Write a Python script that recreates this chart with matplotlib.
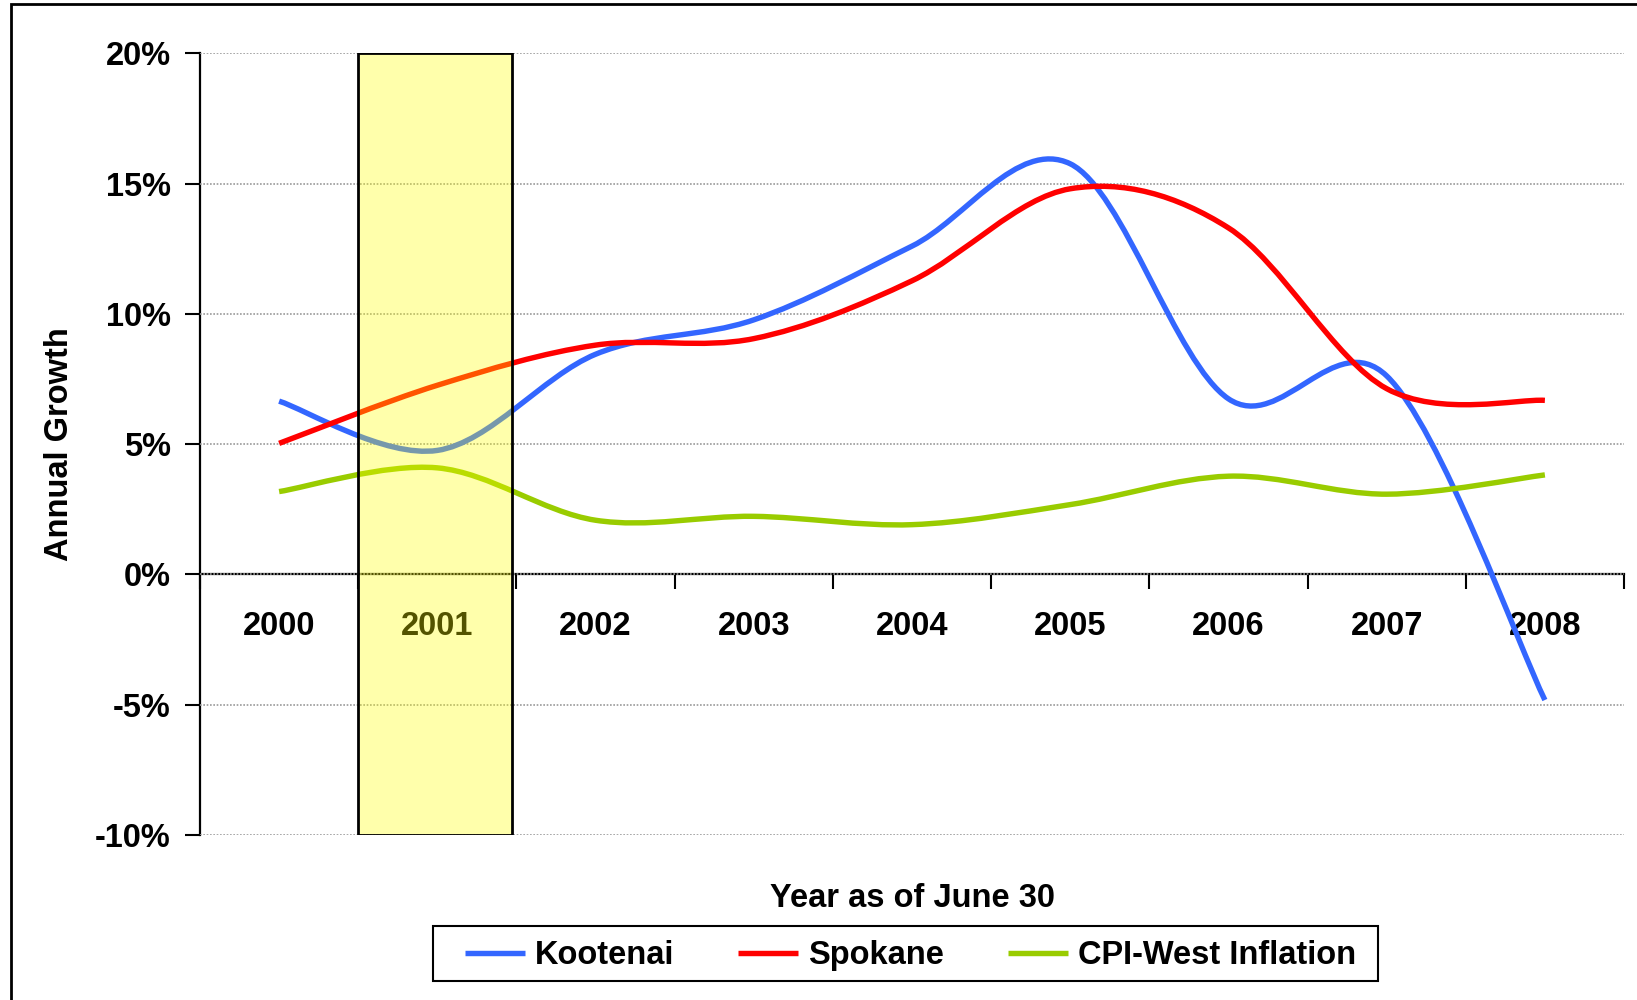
import matplotlib
matplotlib.use("Agg")
import matplotlib.pyplot as plt
from matplotlib.path import Path
from matplotlib.patches import PathPatch, Rectangle
from matplotlib.lines import Line2D
import numpy as np

# ---- data (annual growth, %) ----
years = ["2000", "2001", "2002", "2003", "2004", "2005", "2006", "2007", "2008"]
kootenai = [6.65, 4.76, 8.45, 9.77, 12.6, 15.76, 6.74, 7.62, -4.82]
spokane = [5.03, 7.26, 8.80, 9.05, 11.27, 14.8, 13.3, 7.13, 6.68]
cpi_west = [3.18, 4.09, 2.08, 2.23, 1.91, 2.68, 3.77, 3.08, 3.82]
series_names = ["Kootenai", "Spokane", "CPI-West Inflation"]
y_ticks = [-10, -5, 0, 5, 10, 15, 20]

colors = ["#3366FF", "#FF0000", "#99CC00"]

plt.rcParams['font.family'] = ['Liberation Sans', 'DejaVu Sans']
plt.rcParams['font.weight'] = 'bold'
FS = 23.5

fig = plt.figure(figsize=(16.37, 10), dpi=100)
ax = fig.add_axes([200/1637, 0.165, 1424/1637, 0.7817])


def smooth_path(xs, ys):
    P = np.column_stack([xs, ys]).astype(float)
    n = len(P)
    verts = [P[0]]
    codes = [Path.MOVETO]
    for i in range(n - 1):
        p0, p1 = P[i], P[i + 1]
        pm = P[i - 1] if i > 0 else P[i]
        pp = P[i + 2] if i + 2 < n else P[i + 1]
        c1 = p0 + (p1 - pm) / 6.0
        c2 = p1 - (pp - p0) / 6.0
        verts += [c1, c2, p1]
        codes += [Path.CURVE4] * 3
    return Path(verts, codes)


x = np.arange(len(years))
for vals, col in zip([kootenai, spokane, cpi_west], colors):
    patch = PathPatch(smooth_path(x, vals), facecolor='none', edgecolor=col,
                      lw=3.9, capstyle='butt', joinstyle='round', zorder=3)
    ax.add_patch(patch)

# highlight box over 2001
ax.add_patch(Rectangle((0.5, -10), 0.97, 30, facecolor=(1, 1, 0, 0.33),
                       edgecolor='black', lw=2, zorder=5))

ax.set_xlim(-0.5, 8.5)
ax.set_ylim(-10, 20)

for s in ['top', 'right']:
    ax.spines[s].set_visible(False)
ax.spines['bottom'].set_position(('data', 0))
ax.spines['bottom'].set_linewidth(1.6)
ax.spines['left'].set_linewidth(1.6)

ax.set_xticks(np.arange(-0.5, 9, 1))
ax.set_xticks(x, minor=True)
ax.set_xticklabels([], minor=False)
ax.set_xticklabels(years, minor=True, fontsize=FS, fontweight='bold')
ax.tick_params(axis='x', which='major', direction='out', length=11, width=1.5, labelbottom=False)
ax.tick_params(axis='x', which='minor', length=0, pad=26)

ax.set_yticks(y_ticks)
ax.set_yticklabels([f"{v}%" for v in y_ticks], fontsize=FS, fontweight='bold')
ax.tick_params(axis='y', direction='out', length=11, width=1.5, pad=10)
ax.yaxis.grid(True, color='#999999', linestyle=(0, (1, 1)), lw=1.2)
ax.set_axisbelow(False)

ax.set_ylabel("Annual Growth", fontsize=FS, fontweight='bold')
ax.yaxis.set_label_coords(-0.088, 0.5)
ax.set_xlabel("Year as of June 30", fontsize=FS, fontweight='bold')
ax.xaxis.set_label_coords(0.5, -0.061)

handles = [Line2D([], [], color=c, lw=3.9, solid_capstyle='butt') for c in colors]
fig.legend(handles, series_names, loc='center', bbox_to_anchor=(910.5/1637, 1 - 955.5/1000),
           ncol=3, frameon=False, handlelength=1.85, handletextpad=0.3,
           columnspacing=1.95, prop={'weight': 'bold', 'size': FS})
fig.add_artist(Rectangle((433/1637, 1 - 981/1000), 945/1637, 55/1000,
                         transform=fig.transFigure, fill=False, ec='black', lw=1.5))

# outer frame
fig.add_artist(Rectangle((11/1637, -0.05), 1.1, 0.996 + 0.05,
                         transform=fig.transFigure, fill=False, ec='black', lw=2))

fig.savefig("out.png", dpi=100)
